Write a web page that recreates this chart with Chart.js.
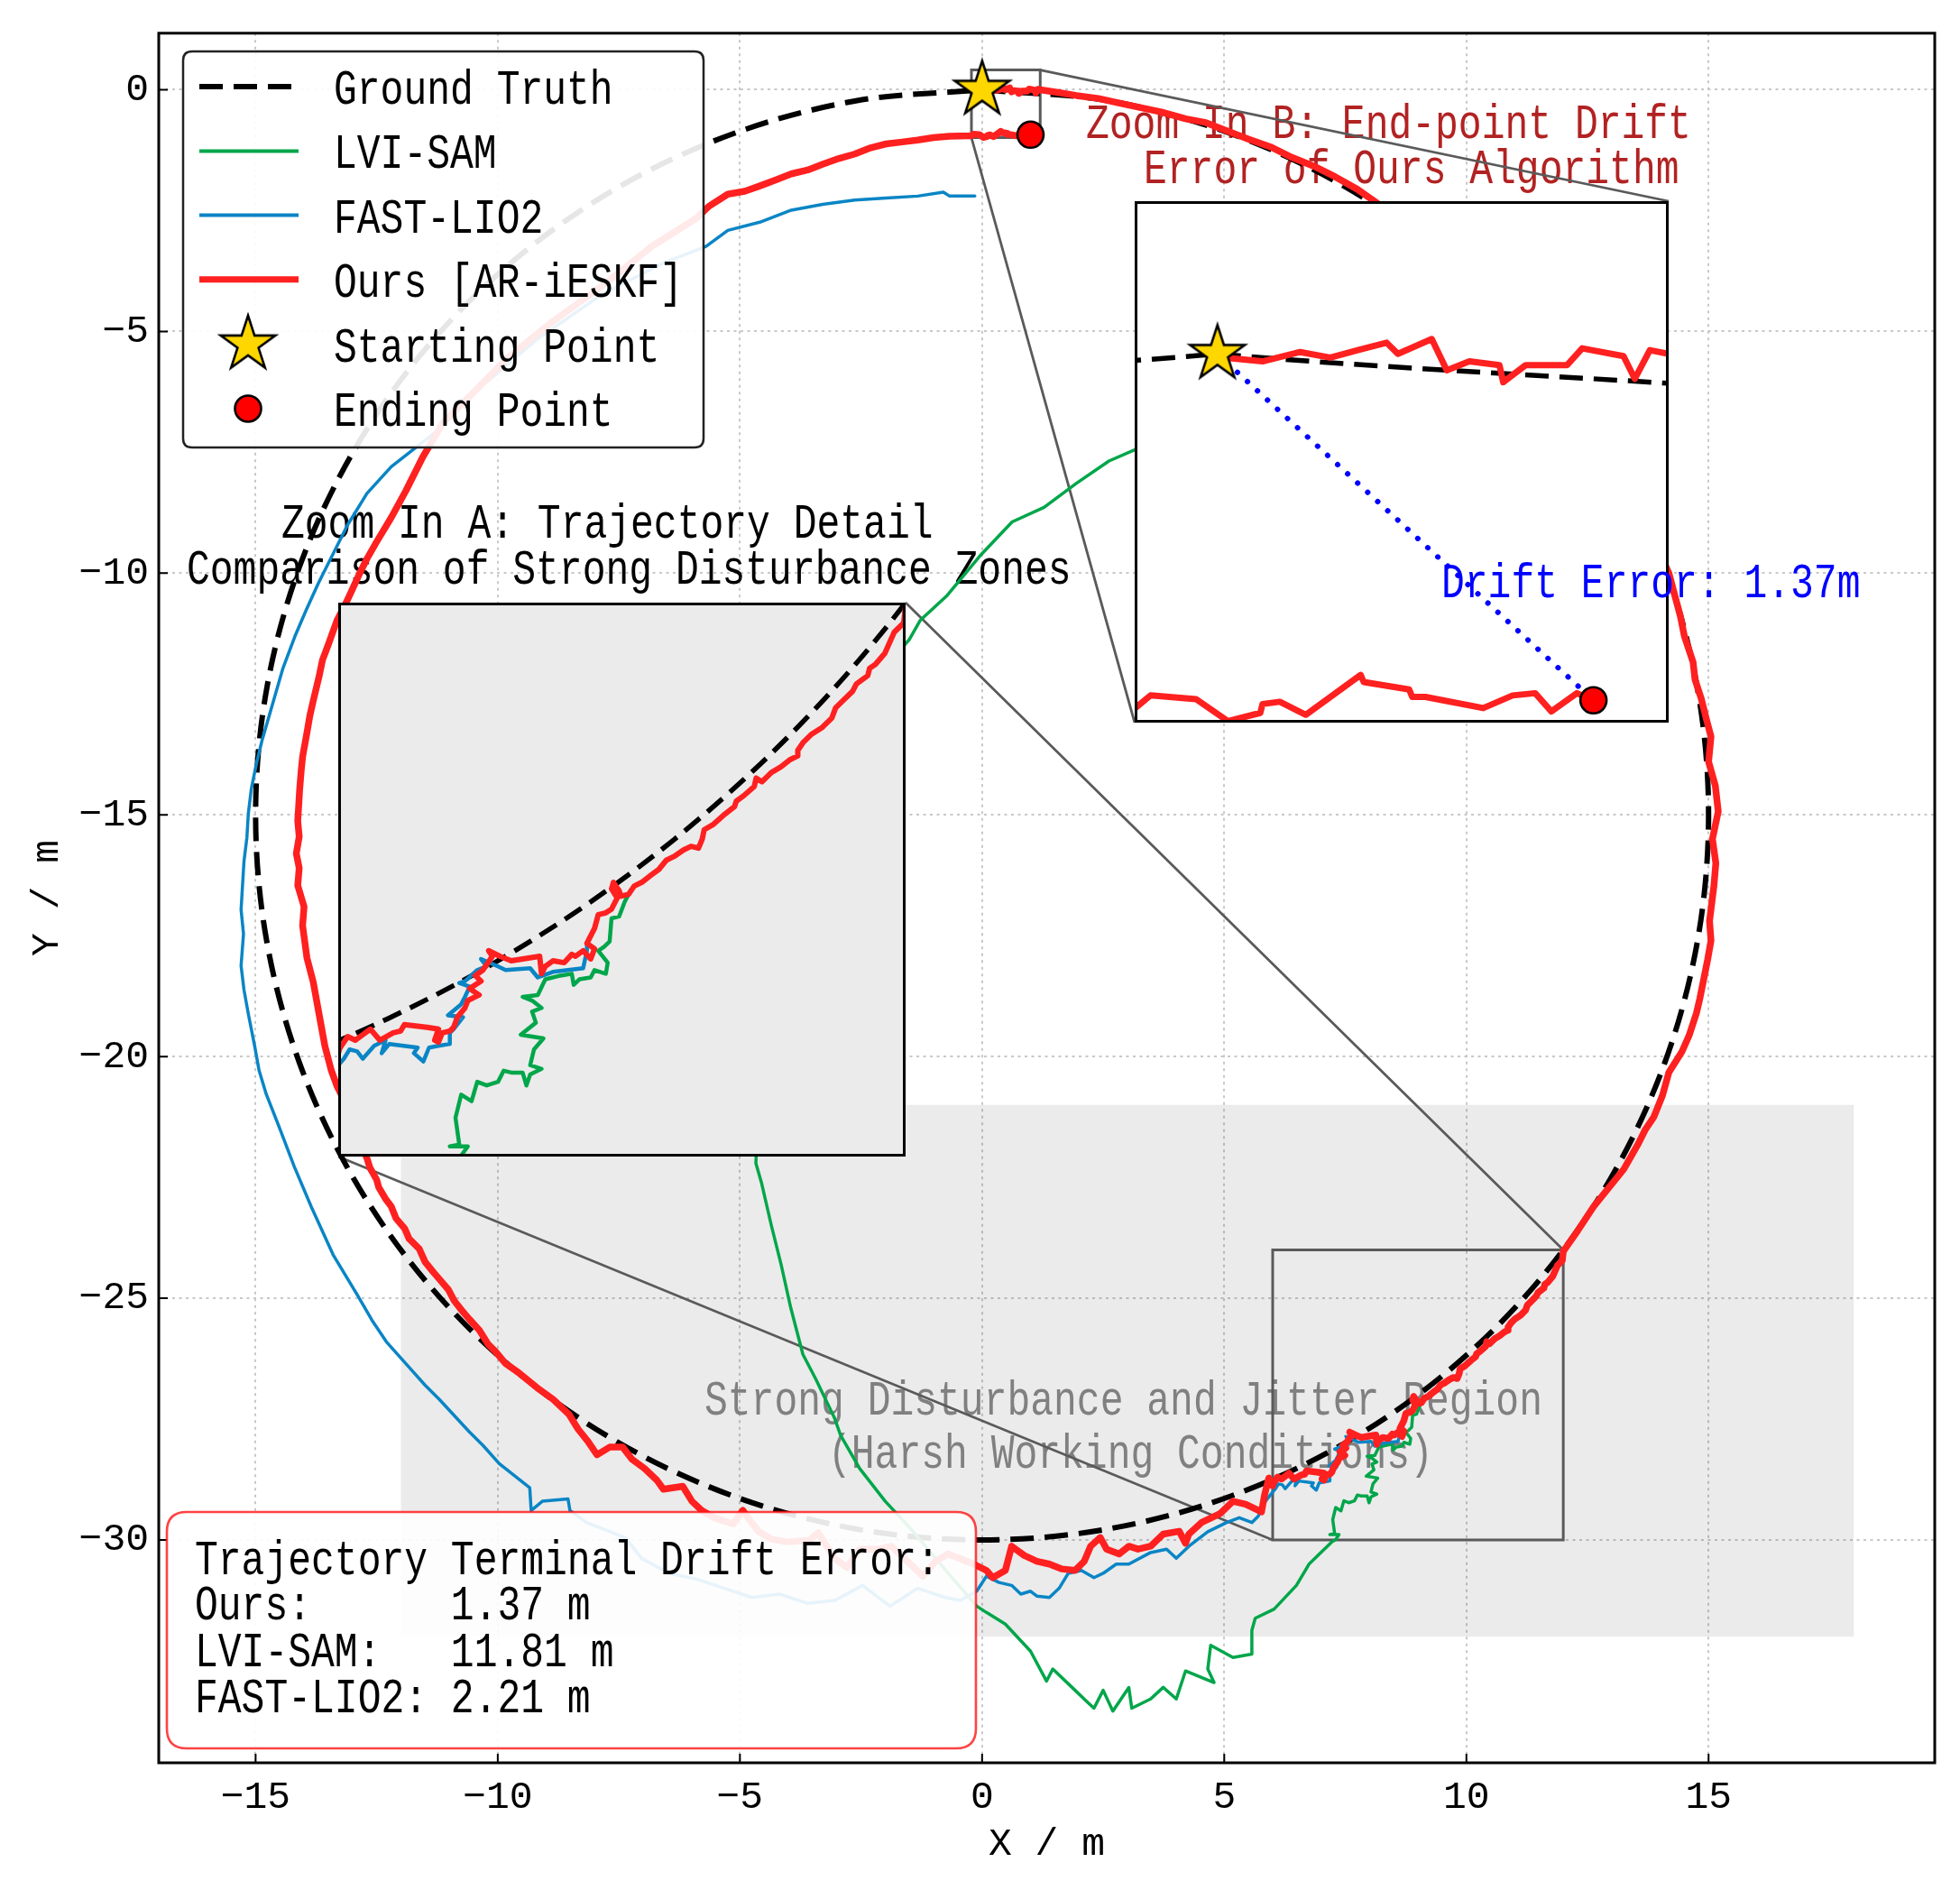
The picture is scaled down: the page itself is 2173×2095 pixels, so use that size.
<!DOCTYPE html>
<html><head><meta charset="utf-8">
<script src="https://cdn.jsdelivr.net/npm/chart.js@4.4.1/dist/chart.umd.min.js"></script>
<style>
html,body{margin:0;padding:0;background:#fff;overflow:hidden;}
#wrap{position:relative;width:2173px;height:2095px;}
#wrap canvas{position:absolute;}
</style></head><body>
<div id="wrap">
<canvas id="main" width="2173" height="2095" style="left:0;top:0;"></canvas>
<canvas id="insetA" width="629" height="614" style="left:375px;top:668px;"></canvas>
<canvas id="insetB" width="862" height="578" style="left:1258px;top:223px;"></canvas>
</div>
<script>
// ---------------- DATA ----------------
const seriesNames = ['Ground Truth', 'LVI-SAM', 'FAST-LIO2', 'Ours [AR-iESKF]', 'Starting Point', 'Ending Point'];
const xTicks = [-15, -10, -5, 0, 5, 10, 15];
const yTicks = [-30, -25, -20, -15, -10, -5, 0];
const xRange = [-17, 19.67];
const yRange = [-34.61, 1.17];
const zoomAX = [6, 12];
const zoomAY = [-30, -24];
const zoomBX = [-0.22, 1.2];
const zoomBY = [-0.99, 0.41];
const disturbanceX = [-12, 18];
const disturbanceY = [-32, -21];
const driftLabels = ['Ours:', 'LVI-SAM:', 'FAST-LIO2:'];
const driftValues = [1.37, 11.81, 2.21];

const groundTruth = [
[0,0],[2.605,-0.228],[5.13,-0.905],[7.5,-2.01],[9.642,-3.509],[11.491,-5.358],[12.99,-7.5],[14.095,-9.87],[14.772,-12.395],[15,-15],
[14.772,-17.605],[14.095,-20.13],[12.99,-22.5],[11.491,-24.642],[9.642,-26.491],[7.5,-27.99],[5.13,-29.095],[2.605,-29.772],[0,-30],
[-2.605,-29.772],[-5.13,-29.095],[-7.5,-27.99],[-9.642,-26.491],[-11.491,-24.642],[-12.99,-22.5],[-14.095,-20.13],[-14.772,-17.605],[-15,-15],
[-14.772,-12.395],[-14.095,-9.87],[-12.99,-7.5],[-11.491,-5.358],[-9.642,-3.509],[-7.5,-2.01],[-5.13,-0.905],[-2.605,-0.228],[0,0]
];

// common stretch (start -> right side -> disturbance zone) where all three estimates overlap
const sharedRight = [
[0,0],[0.02,-0.01],[0.12,-0.02],[0.22,0.005],[0.3,-0.01],[0.38,0.012],[0.45,0.03],[0.48,0],[0.57,0.04],[0.61,-0.044],[0.67,-0.02],[0.75,-0.03],[0.76,-0.076],[0.82,-0.03],[0.93,-0.03],[0.97,0.015],[1.08,-0.006],[1.11,-0.067],[1.15,0.01],[1.2,0],
[1.6,-0.06],[1.95,-0.12],[2.4,-0.18],[2.8,-0.27],[3.28,-0.37],[3.7,-0.46],[4.2,-0.6],[4.62,-0.68],[5.1,-0.87],[5.5,-1.02],[5.95,-1.18],[6.4,-1.4],[6.85,-1.58],[7.29,-1.8],[7.75,-2.06],[8.22,-2.39],
[9,-2.95],[9.64,-3.49],[10.6,-4.3],[11.49,-5.33],[12.3,-6.4],[12.99,-7.48],[13.6,-8.7],[14.18,-10],
[14.3,-10.45],[14.42,-10.9],[14.5,-11.3],[14.68,-11.84],[14.72,-12.2],[14.85,-12.6],[14.95,-13.0],[15.05,-13.38],[15,-13.9],[15.14,-14.4],[15.2,-14.93],[15.08,-15.5],[15.15,-16],[15.11,-16.47],[15.02,-17.2],[15.05,-17.6],[14.98,-18],[14.82,-18.8],[14.75,-19.1],[14.6,-19.56],[14.45,-19.9],[14.18,-20.33],[14.05,-20.8],[13.87,-21.25],[13.7,-21.5],[13.55,-21.8],[13.25,-22.33],[12.95,-22.7],[12.63,-23.1],[12.3,-23.6],[12,-24.03],
[11.98,-24.22],[11.88,-24.32],[11.78,-24.55],[11.68,-24.67],[11.62,-24.71],[11.6,-24.79],[11.48,-24.88],[11.44,-24.96],[11.34,-25.06],[11.26,-25.14],[11.22,-25.25],[11.12,-25.35],[11,-25.43],[10.92,-25.51],[10.86,-25.6],[10.86,-25.66],[10.78,-25.7],[10.68,-25.78],[10.58,-25.84],[10.48,-25.94],[10.42,-25.9],[10.4,-25.99],[10.29,-26.09],[10.21,-26.15],[10.19,-26.21],[10.09,-26.29],[9.97,-26.4],[9.87,-26.46],[9.85,-26.56],[9.81,-26.66],[9.73,-26.64],[9.65,-26.68],[9.55,-26.75],[9.47,-26.79],[9.39,-26.89],[9.31,-26.95],[9.21,-27.03],[9.13,-27.07],[9.07,-27.16]
];

const oursTail = [
[8.99,-27.18],[8.97,-27.12],[8.91,-27.03],[8.89,-27.1],[8.95,-27.2],[8.89,-27.32],[8.83,-27.36],[8.75,-27.38],[8.71,-27.53],[8.63,-27.69],[8.71,-27.75],[8.67,-27.86],[8.59,-27.77],[8.51,-27.83],[8.47,-27.81],[8.39,-27.9],[8.27,-27.88],[8.19,-27.94],[8.15,-28.02],[8.13,-27.83],[7.95,-27.86],[7.83,-27.88],[7.71,-27.83],[7.59,-27.77],[7.63,-27.83],[7.53,-27.98],[7.45,-28.04],[7.51,-28.1],[7.39,-28.18],[7.49,-28.25],[7.37,-28.31],[7.34,-28.39],[7.26,-28.49],[7.22,-28.6],[7.18,-28.64],[7.1,-28.66],[7.06,-28.76],[7.02,-28.74],[7.06,-28.62],[6.94,-28.6],[6.7,-28.57],[6.66,-28.64],[6.58,-28.66],[6.44,-28.74],[6.34,-28.62],[6.26,-28.68],[6.18,-28.74],[6.1,-28.7],[6.02,-28.82],[6,-28.88],
[5.92,-28.72],[5.83,-29.08],[5.77,-29.42],[5.44,-29.26],[5.18,-29.2],[4.92,-29.45],[4.53,-29.64],[4.27,-29.88],[4.2,-30.07],[4.07,-29.82],[3.74,-29.88],[3.48,-30.13],[3.22,-30.19],[3.03,-30.13],[2.83,-30.29],[2.57,-30.19],[2.44,-29.95],[2.24,-30.13],[2.11,-30.44],[1.92,-30.63],[1.65,-30.6],[1.39,-30.5],[1.13,-30.44],[0.87,-30.32],[0.61,-30.13],[0.48,-30.63],[0.22,-30.78],[0.09,-30.63],[-0.17,-30.5],[-0.7,-30.29],[-0.96,-30.44],[-1.22,-30.75],[-1.48,-30.5],[-1.87,-30.13],[-2.13,-30.19],[-2.53,-30.19],[-2.79,-30.57],[-3.05,-30.38],[-3.38,-29.85],[-3.57,-30.01],[-4.03,-30.04],[-4.36,-29.98],[-4.62,-29.82],[-4.81,-29.57],[-4.94,-29.39],[-5.14,-29.67],[-5.53,-29.54],[-5.79,-29.39],[-5.99,-29.2],[-6.18,-28.89],[-6.58,-28.95],[-6.71,-28.77],[-6.97,-28.52],[-7.23,-28.33],[-7.42,-28.08],[-7.69,-28.08],[-7.95,-28.24],[-8.14,-27.96],[-8.34,-27.71],[-8.53,-27.4],[-8.86,-27.09],[-9.19,-26.85],[-9.58,-26.53],[-9.84,-26.35],
[-10.05,-26.1],[-10.2,-25.95],[-10.38,-25.66],[-10.59,-25.43],[-10.72,-25.28],[-10.9,-25.05],[-11.02,-24.82],[-11.21,-24.6],[-11.33,-24.46],[-11.5,-24.25],[-11.62,-23.98],[-11.83,-23.77],[-11.92,-23.56],[-12.1,-23.35],[-12.2,-23.1],[-12.32,-22.94],[-12.46,-22.7],[-12.5,-22.55],[-12.64,-22.3],[-12.7,-22.11],[-12.9,-21.6],[-13.07,-21.11],[-13.32,-20.61],[-13.44,-20.28],[-13.57,-19.78],[-13.69,-19.12],[-13.81,-18.46],[-13.94,-17.96],[-14.03,-17.29],[-14,-16.9],[-14.13,-16.46],[-14.1,-16.1],[-14.16,-15.8],[-14.1,-15.45],[-14.13,-15.13],[-14.09,-14.47],[-14.06,-14.1],[-14.03,-13.8],[-13.94,-13.3],[-13.88,-12.95],[-13.81,-12.64],[-13.69,-12.14],[-13.62,-11.8],[-13.5,-11.48],[-13.32,-10.98],[-13.2,-10.75],[-13.07,-10.48],[-12.85,-10],[-12.7,-9.7],[-12.5,-9.35],[-12.2,-8.85],[-11.9,-8.3],[-11.55,-7.6],
[-11.13,-6.89],[-10.47,-6.23],[-9.82,-5.57],[-8.9,-4.82],[-7.86,-4.07],[-6.82,-3.24],[-5.9,-2.66],[-5.64,-2.41],[-5.25,-2.16],[-4.9,-2.1],[-4.59,-1.99],[-4.25,-1.86],[-3.94,-1.74],[-3.6,-1.66],[-3.29,-1.54],[-2.95,-1.42],[-2.63,-1.33],[-2.3,-1.2],[-1.98,-1.12],[-1.65,-1.08],[-1.33,-1.04],[-1.0,-0.99],[-0.67,-0.96],
[-0.221,-0.953],[-0.178,-0.917],[-0.057,-0.927],[0.028,-0.986],[0.114,-0.964],[0.12,-0.94],[0.166,-0.934],[0.235,-0.969],[0.381,-0.862],[0.389,-0.881],[0.51,-0.901],[0.518,-0.921],[0.553,-0.921],[0.707,-0.951],[0.785,-0.917],[0.845,-0.911],[0.888,-0.96],[0.956,-0.911],[1,-0.93]
];

const fastLioTail = [
[8.99,-27.18],[8.97,-27.12],[8.91,-27.03],[8.89,-27.1],[8.95,-27.2],[8.89,-27.32],[8.83,-27.36],[8.75,-27.38],[8.71,-27.53],[8.63,-27.69],
[8.63,-27.77],[8.59,-27.96],[8.43,-27.98],[8.27,-28],[8.11,-28.06],[8.03,-27.96],[7.77,-27.98],[7.69,-27.94],[7.51,-27.86],[7.57,-27.94],[7.47,-27.98],[7.34,-28.1],[7.28,-28.12],[7.39,-28.16],[7.34,-28.27],[7.3,-28.35],[7.16,-28.47],[7.32,-28.49],[7.22,-28.62],[7.18,-28.66],[7.18,-28.78],[7.06,-28.8],[6.96,-28.82],[6.9,-28.97],[6.8,-28.88],[6.84,-28.82],[6.54,-28.78],[6.46,-28.88],[6.5,-28.74],[6.38,-28.8],[6.26,-28.94],[6.2,-28.86],[6.12,-28.84],[6.06,-28.94],[6,-29.01],
[5.85,-29.2],[5.7,-29.51],[5.57,-29.64],[5.31,-29.54],[5.05,-29.64],[4.66,-29.83],[4.27,-30.13],[4.01,-30.38],[3.81,-30.19],[3.48,-30.26],[3.03,-30.5],[2.77,-30.5],[2.5,-30.69],[2.31,-30.78],[2.05,-30.63],[1.78,-30.69],[1.59,-31],[1.39,-31.19],[1.13,-31.16],[1,-31.06],[0.8,-31.12],[0.61,-30.94],[0.35,-30.88],[0.09,-30.75],[-0.11,-31.06],[-0.45,-31.25],[-0.76,-31.19],[-1.33,-31],[-1.9,-31.37],[-2.47,-30.94],[-3.04,-31.25],[-3.61,-31.31],[-4.18,-31.12],[-4.75,-31.19],[-5.32,-31],[-5.89,-30.81],[-6.46,-30.69],[-7.03,-30.38],[-7.37,-29.95],[-8.17,-29.64],[-8.51,-29.39],[-8.55,-29.15],[-9.08,-29.2],[-9.31,-29.39],[-9.34,-28.92],[-9.97,-28.42],[-10.3,-28.05],[-10.59,-27.76],[-11.21,-27.09],[-11.5,-26.8],[-11.83,-26.43],[-12.3,-25.9],[-12.6,-25.45],[-12.9,-24.93],[-13.4,-24.1],[-13.85,-23.11],[-14.2,-22.28],[-14.52,-21.44],[-14.78,-20.78],[-14.93,-20.28],[-15.02,-19.78],[-15.15,-19.12],[-15.24,-18.62],[-15.3,-18.12],[-15.25,-17.46],[-15.3,-16.96],[-15.27,-16.46],[-15.24,-15.96],[-15.18,-15.47],[-15.15,-14.97],[-15.09,-14.47],[-14.99,-13.97],[-14.87,-13.47],[-14.68,-12.81],[-14.44,-11.98],[-14.19,-11.31],[-13.95,-10.75],[-13.7,-10.2],[-13.45,-9.7],[-13.1,-9],[-12.7,-8.35],[-12.2,-7.8],[-11.26,-7.06],[-10.34,-6.14],[-9.17,-5.15],[-7.86,-4.24],[-6.55,-3.57],[-5.7,-3.24],[-5.25,-2.91],[-4.59,-2.74],[-3.94,-2.49],[-3.29,-2.37],[-2.63,-2.28],[-1.98,-2.24],[-1.33,-2.2],[-0.8,-2.12],[-0.67,-2.2],[-0.15,-2.2]
];

const lviSamTail = [
[9.03,-27.24],[8.97,-27.4],[8.89,-27.42],[8.87,-27.67],[8.81,-27.73],[8.75,-27.77],[8.85,-27.9],[8.83,-28.02],[8.71,-27.98],[8.67,-28.06],[8.55,-28.08],[8.49,-28.14],[8.47,-28.02],[8.35,-28.04],[8.19,-28.08],[8.11,-28.25],[7.95,-28.27],[8.05,-28.31],[8.15,-28.39],[8.05,-28.43],[8.09,-28.55],[7.93,-28.68],[8.17,-28.72],[8.07,-28.84],[8.03,-29.01],[8.15,-29.05],[8.03,-29.11],[7.99,-29.23],[7.95,-29.09],[7.83,-29.09],[7.75,-29.07],[7.69,-29.19],[7.57,-29.23],[7.47,-29.19],[7.41,-29.4],[7.3,-29.33],[7.24,-29.58],[7.28,-29.87],[7.18,-29.89],[7.37,-29.89],[7.3,-29.99],
[7.21,-30.05],[6.75,-30.5],[6.49,-30.94],[6.03,-31.43],[5.64,-31.62],[5.57,-31.87],[5.57,-32.36],[5.18,-32.43],[4.72,-32.18],[4.66,-32.67],[4.79,-32.95],[4.2,-32.71],[4.01,-33.29],[3.74,-33.05],[3.48,-33.29],[3.09,-33.48],[3.03,-33.05],[2.7,-33.54],[2.5,-33.11],[2.31,-33.48],[2.18,-33.36],[1.92,-33.11],[1.46,-32.67],[1.33,-32.92],[1,-32.3],[0.48,-31.74],[0.09,-31.5],[-0.11,-31.37],[-0.7,-30.69],[-1.48,-29.76],[-2,-29.2],[-2.53,-28.52],[-2.92,-27.84],[-3.05,-27.47],[-3.44,-26.66],[-3.7,-26.16],[-3.95,-25.2],[-4.15,-24.3],[-4.35,-23.5],[-4.55,-22.63],[-4.67,-22.21],[-4.6,-20],[-4.2,-17],[-3.4,-14.5],[-2.4,-12.4],[-1.5,-11.37],[-1.28,-10.98],[-0.72,-10.46],[-0.05,-9.65],[0.62,-8.94],[1.28,-8.64],[1.95,-8.14],[2.62,-7.68],[3.15,-7.45],[3.6,-7.2]
];

const startPoint = [[0, 0]];
const endPoint = [[1, -0.93]];

// ---------------- STYLE / HELPERS ----------------
const FONT = '"Liberation Mono", "DejaVu Sans Mono", monospace';
const COL = {red: '#ff2020', blue: '#0a85c5', green: '#00a64a', gt: '#000000', conn: '#5a5a5a'};
const SY = 1.25;
function pts(a) { return a.map(p => ({x: p[0], y: p[1]})); }
const oursPath = sharedRight.concat(oursTail);
const fastPath = sharedRight.concat(fastLioTail);
const lviPath = sharedRight.concat(lviSamTail);

function drawText(ctx, str, x, y, color) {
  ctx.save();
  ctx.font = '43px ' + FONT;
  ctx.fillStyle = color;
  ctx.textAlign = 'left';
  ctx.textBaseline = 'alphabetic';
  ctx.translate(x, y);
  ctx.scale(1, SY);
  ctx.fillText(str, 0, 0);
  ctx.restore();
}
function rrect(ctx, x, y, w, h, r) {
  ctx.beginPath();
  ctx.moveTo(x + r, y);
  ctx.lineTo(x + w - r, y); ctx.quadraticCurveTo(x + w, y, x + w, y + r);
  ctx.lineTo(x + w, y + h - r); ctx.quadraticCurveTo(x + w, y + h, x + w - r, y + h);
  ctx.lineTo(x + r, y + h); ctx.quadraticCurveTo(x, y + h, x, y + h - r);
  ctx.lineTo(x, y + r); ctx.quadraticCurveTo(x, y, x + r, y);
  ctx.closePath();
}
function makeStar(r) {
  const s = Math.ceil(2 * r + 8);
  const cv = document.createElement('canvas');
  cv.width = s; cv.height = s;
  const c = cv.getContext('2d');
  c.translate(s / 2, s / 2);
  c.beginPath();
  for (let i = 0; i < 10; i++) {
    const a = -Math.PI / 2 + i * Math.PI / 5;
    const rr = i % 2 === 0 ? r : r * 0.381966;
    const px = rr * Math.cos(a), py = rr * Math.sin(a);
    if (i === 0) c.moveTo(px, py); else c.lineTo(px, py);
  }
  c.closePath();
  c.fillStyle = '#FFD700';
  c.fill();
  c.lineWidth = 2.6;
  c.strokeStyle = '#000';
  c.lineJoin = 'miter';
  c.stroke();
  return cv;
}
const starImg = makeStar(32);

const insetAPos = {left: 375, top: 668, w: 629, h: 614};
const insetBPos = {left: 1258, top: 223, w: 592, h: 578};

function lineDs(label, data, color, width, order, extra) {
  return Object.assign({label, data: pts(data), showLine: true, borderColor: color, backgroundColor: color,
    borderWidth: width, pointRadius: 0, pointHoverRadius: 0, order, borderJoinStyle: 'round', borderCapStyle: 'round', tension: 0}, extra || {});
}
function gtDs(width, dash, order) {
  return lineDs(seriesNames[0], groundTruth, COL.gt, width, order, {borderDash: dash, borderCapStyle: 'butt', tension: 0.335, capBezierPoints: false});
}
function startDs() { return {label: seriesNames[4], data: pts(startPoint), showLine: false, pointStyle: starImg, pointRadius: 32, pointHoverRadius: 32, order: 0}; }
function endDs() { return {label: seriesNames[5], data: pts(endPoint), showLine: false, pointStyle: 'circle', pointRadius: 14.5, pointHoverRadius: 14.5, backgroundColor: '#ff0000', borderColor: '#000', borderWidth: 2.6, order: 0}; }

// ---------------- MAIN CHART ----------------
const overlay = {
  id: 'overlay',
  beforeDatasetsDraw(chart) {
    const {ctx, scales: {x, y}} = chart;
    const rx0 = x.getPixelForValue(disturbanceX[0]), rx1 = x.getPixelForValue(disturbanceX[1]);
    const ry0 = y.getPixelForValue(disturbanceY[1]), ry1 = y.getPixelForValue(disturbanceY[0]);
    ctx.save();
    ctx.fillStyle = 'rgba(0,0,0,0.078)';
    ctx.fillRect(rx0, ry0, rx1 - rx0, ry1 - ry0);
    ctx.restore();
    drawText(ctx, 'Strong Disturbance and Jitter Region', 781, 1568, '#808080');
    drawText(ctx, '(Harsh Working Conditions)', 918, 1627, '#808080');
    drawText(ctx, 'Zoom In A: Trajectory Detail', 312, 596, '#000000');
    drawText(ctx, 'Comparison of Strong Disturbance Zones', 207, 647, '#000000');
    drawText(ctx, 'Zoom In B: End-point Drift', 1204, 153, '#b22222');
    drawText(ctx, 'Error of Ours Algorithm', 1268, 203, '#b22222');

    ctx.save();
    ctx.strokeStyle = COL.conn;
    ctx.lineWidth = 3;
    const ax0 = x.getPixelForValue(zoomAX[0]), ax1 = x.getPixelForValue(zoomAX[1]);
    const ay0 = y.getPixelForValue(zoomAY[1]), ay1 = y.getPixelForValue(zoomAY[0]);
    ctx.strokeRect(ax0, ay0, ax1 - ax0, ay1 - ay0);
    const bx0 = x.getPixelForValue(zoomBX[0]), bx1 = x.getPixelForValue(zoomBX[1]);
    const by0 = y.getPixelForValue(zoomBY[1]), by1 = y.getPixelForValue(zoomBY[0]);
    ctx.strokeRect(bx0, by0, bx1 - bx0, by1 - by0);
    ctx.lineWidth = 2.8;
    ctx.beginPath();
    ctx.moveTo(ax1, ay0); ctx.lineTo(insetAPos.left + insetAPos.w, insetAPos.top);
    ctx.moveTo(ax0, ay1); ctx.lineTo(insetAPos.left, insetAPos.top + insetAPos.h);
    ctx.moveTo(bx1, by0); ctx.lineTo(insetBPos.left + insetBPos.w, insetBPos.top);
    ctx.moveTo(bx0, by1); ctx.lineTo(insetBPos.left, insetBPos.top + insetBPos.h);
    ctx.stroke();
    ctx.restore();
  },
  afterDatasetsDraw(chart) {
    const {ctx, chartArea: a, scales: {x, y}} = chart;
    ctx.save();
    ctx.strokeStyle = '#000';
    ctx.lineWidth = 2;
    ctx.beginPath();
    xTicks.forEach(v => { const p = x.getPixelForValue(v); ctx.moveTo(p, a.bottom); ctx.lineTo(p, a.bottom - 10); });
    yTicks.forEach(v => { const p = y.getPixelForValue(v); ctx.moveTo(a.left, p); ctx.lineTo(a.left + 10, p); });
    ctx.stroke();
    ctx.lineWidth = 3;
    ctx.strokeRect(a.left, a.top, a.right - a.left, a.bottom - a.top);
    ctx.restore();

    // legend
    ctx.save();
    rrect(ctx, 203, 57, 577, 439, 10);
    ctx.fillStyle = 'rgba(255,255,255,0.9)';
    ctx.fill();
    ctx.strokeStyle = '#222';
    ctx.lineWidth = 2.5;
    ctx.stroke();
    const rows = [96, 167.4, 238.6, 309.8, 381.7, 453];
    const items = [
      {kind: 'line', color: COL.gt, width: 6, dash: [26, 12]},
      {kind: 'line', color: COL.green, width: 4},
      {kind: 'line', color: COL.blue, width: 4},
      {kind: 'line', color: COL.red, width: 7},
      {kind: 'star'},
      {kind: 'dot'}
    ];
    items.forEach((it, i) => {
      const cy = rows[i];
      if (it.kind === 'line') {
        ctx.save();
        ctx.strokeStyle = it.color; ctx.lineWidth = it.width; ctx.lineCap = 'butt';
        ctx.setLineDash(it.dash || []);
        ctx.beginPath(); ctx.moveTo(221, cy); ctx.lineTo(331, cy); ctx.stroke();
        ctx.restore();
      } else if (it.kind === 'star') {
        ctx.drawImage(starImg, 275 - starImg.width / 2, cy - starImg.height / 2);
      } else {
        ctx.save();
        ctx.beginPath(); ctx.arc(275, cy, 14.5, 0, Math.PI * 2);
        ctx.fillStyle = '#ff0000'; ctx.fill();
        ctx.lineWidth = 2.6; ctx.strokeStyle = '#000'; ctx.stroke();
        ctx.restore();
      }
      drawText(ctx, seriesNames[i], 370, cy + 19, '#000000');
    });
    ctx.restore();

    // drift annotation box
    ctx.save();
    rrect(ctx, 185, 1676, 897, 262, 22);
    ctx.fillStyle = 'rgba(255,255,255,0.9)';
    ctx.fill();
    ctx.strokeStyle = 'rgba(255,20,20,0.8)';
    ctx.lineWidth = 2.6;
    ctx.stroke();
    ctx.restore();
    drawText(ctx, 'Trajectory Terminal Drift Error:', 216, 1745, '#000000');
    [0, 1, 2].forEach((k, i) => {
      drawText(ctx, driftLabels[k].padEnd(11, ' ') + driftValues[k].toFixed(2) + ' m', 216, 1795 + i * 51.5, '#000000');
    });
  }
};

const tickFont = {family: FONT, size: 43};
const fmt = v => (v < 0 ? '\u2212' + Math.abs(v) : String(v));

new Chart(document.getElementById('main'), {
  type: 'scatter',
  data: {
    datasets: [
      startDs(), endDs(),
      lineDs(seriesNames[3], oursPath, COL.red, 7.5, 1),
      lineDs(seriesNames[2], fastPath, COL.blue, 3.5, 2),
      lineDs(seriesNames[1], lviPath, COL.green, 3.5, 3),
      gtDs(6, [26, 12], 4)
    ]
  },
  options: {
    responsive: false, maintainAspectRatio: false, animation: false, devicePixelRatio: 1,
    layout: {autoPadding: false, padding: {left: 0, top: 31, right: 28, bottom: 0}},
    plugins: {legend: {display: false}, tooltip: {enabled: false}},
    scales: {
      x: {
        type: 'linear', min: xRange[0], max: xRange[1],
        afterBuildTicks: s => { s.ticks = xTicks.map(v => ({value: v})); },
        afterFit: s => { s.height = 141; },
        grid: {color: '#c8c8c8', lineWidth: 2, drawTicks: false},
        border: {display: false, dash: [3, 4.5]},
        ticks: {font: tickFont, color: '#000', padding: 13, maxRotation: 0, minRotation: 0, autoSkip: false, includeBounds: false, callback: fmt},
        title: {display: true, text: 'X / m', color: '#000', font: {family: FONT, size: 43}, padding: {top: 0, bottom: 25}}
      },
      y: {
        type: 'linear', min: yRange[0], max: yRange[1],
        afterBuildTicks: s => { s.ticks = yTicks.map(v => ({value: v})); },
        afterFit: s => { s.width = 176; },
        grid: {color: '#c8c8c8', lineWidth: 2, drawTicks: false},
        border: {display: false, dash: [3, 4.5]},
        ticks: {font: tickFont, color: '#000', padding: 11, autoSkip: false, includeBounds: false, callback: fmt},
        title: {display: true, text: 'Y / m', color: '#000', font: {family: FONT, size: 43}, padding: {top: 27, bottom: 0}}
      }
    }
  },
  plugins: [overlay]
});

// ---------------- INSETS ----------------
function insetPlugin(id, bg, extra) {
  return {
    id,
    beforeDraw(chart) {
      const a = chart.chartArea, c = chart.ctx;
      c.save(); c.fillStyle = bg; c.fillRect(a.left, a.top, a.right - a.left, a.bottom - a.top); c.restore();
    },
    afterDraw(chart) {
      const a = chart.chartArea, c = chart.ctx;
      c.save(); c.strokeStyle = '#000'; c.lineWidth = 3;
      c.strokeRect(a.left + 1.5, a.top + 1.5, a.right - a.left - 3, a.bottom - a.top - 3);
      c.restore();
      if (extra) extra(chart);
    }
  };
}
function insetOptions(xr, yr, padRight) {
  return {
    responsive: false, maintainAspectRatio: false, animation: false, devicePixelRatio: 1,
    layout: {autoPadding: false, padding: {left: 0, top: 0, bottom: 0, right: padRight}},
    plugins: {legend: {display: false}, tooltip: {enabled: false}},
    scales: {
      x: {type: 'linear', min: xr[0], max: xr[1], display: false},
      y: {type: 'linear', min: yr[0], max: yr[1], display: false}
    }
  };
}

new Chart(document.getElementById('insetA'), {
  type: 'scatter',
  data: {
    datasets: [
      lineDs(seriesNames[3], oursPath, COL.red, 6, 1),
      lineDs(seriesNames[2], fastPath, COL.blue, 4.5, 2),
      lineDs(seriesNames[1], lviPath, COL.green, 4.5, 3),
      gtDs(5.5, [22, 11], 4)
    ]
  },
  options: insetOptions(zoomAX, zoomAY, 0),
  plugins: [insetPlugin('insetAFrame', '#ebebeb')]
});

new Chart(document.getElementById('insetB'), {
  type: 'scatter',
  data: {
    datasets: [
      startDs(), endDs(),
      lineDs('Drift', startPoint.concat(endPoint), '#0000ff', 6, 1, {borderDash: [0.1, 15], borderCapStyle: 'round'}),
      lineDs(seriesNames[3], oursPath, COL.red, 7, 2),
      gtDs(5.5, [26, 12], 3)
    ]
  },
  options: insetOptions(zoomBX, zoomBY, 862 - 592),
  plugins: [insetPlugin('insetBFrame', '#ffffff', chart => {
    const a = chart.chartArea;
    drawText(chart.ctx, 'Drift Error: ' + driftValues[0].toFixed(2) + 'm', a.left + 340, a.top + 439, '#0000ff');
  })]
});
</script>
</body></html>
